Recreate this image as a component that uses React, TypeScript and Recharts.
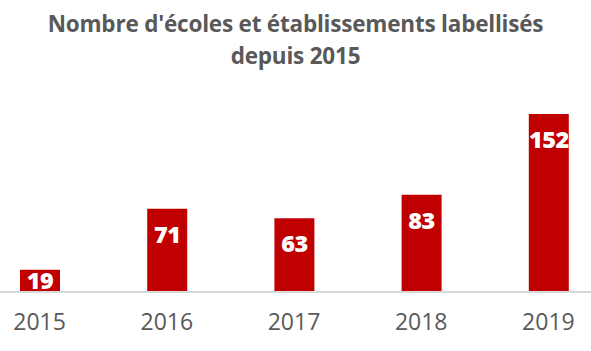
import { BarChart, Bar, XAxis, YAxis, LabelList } from "recharts";

const years = ["2015", "2016", "2017", "2018", "2019"];
const labellises = [19, 71, 63, 83, 152];

const data = years.map((year, i) => ({ year, count: labellises[i] }));

const grey = "#595959";

function BarValue(props: any) {
  const { x, y, width, height, value } = props;
  const baseline = Math.min(y + 34, y + height - 3);
  return (
    <text
      x={x + width / 2}
      y={baseline}
      textAnchor="middle"
      fill="#fff"
      fontFamily="Open Sans"
      fontWeight={800}
      fontSize={23.5}
      letterSpacing={-0.5}
    >
      {value}
    </text>
  );
}

export default function App() {
  return (
    <div
      style={{
        position: "absolute",
        left: 0,
        top: 0,
        width: 591,
        height: 351,
        overflow: "hidden",
        background: "#fff",
      }}
    >
      <div
        style={{
          position: "absolute",
          top: 8,
          left: 0,
          width: 591,
          textAlign: "center",
          fontFamily: "Open Sans",
          fontWeight: 700,
          fontSize: 22.5,
          lineHeight: "32px",
          color: grey,
          letterSpacing: -0.2,
        }}
      >
        Nombre d'écoles et établissements labellisés
        <br />
        depuis 2015
      </div>
      <div style={{ position: "absolute", left: -24.5, top: 0 }}>
        <BarChart
          width={636}
          height={351}
          data={data}
          margin={{ top: 114, right: 0, bottom: 0, left: 0 }}
          barSize={40}
        >
          <YAxis hide domain={[0, 152]} />
          <XAxis
            dataKey="year"
            axisLine={{ stroke: "#d9d9d9", strokeWidth: 2 }}
            tickLine={false}
            tick={{ fill: grey, fontSize: 23, fontFamily: "Open Sans" }}
            tickMargin={16}
            height={59}
          />
          <Bar dataKey="count" fill="#c00000" isAnimationActive={false}>
            <LabelList dataKey="count" content={BarValue} />
          </Bar>
        </BarChart>
      </div>
    </div>
  );
}
